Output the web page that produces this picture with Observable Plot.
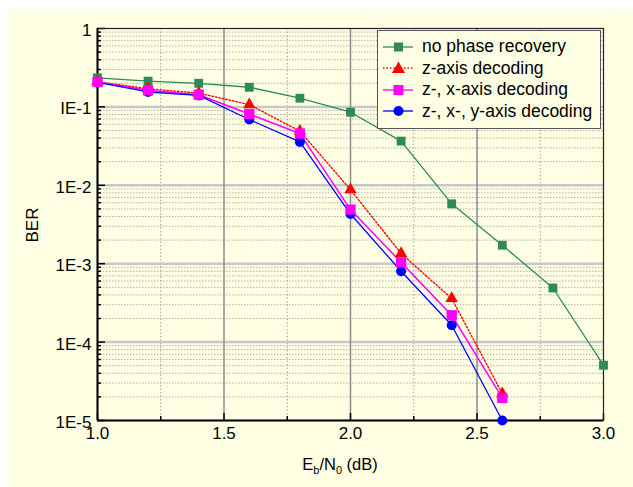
<!DOCTYPE html>
<html><head><meta charset="utf-8">
<script src="https://cdn.jsdelivr.net/npm/d3@7"></script>
<script src="https://cdn.jsdelivr.net/npm/@observablehq/plot@0.6"></script>
<style>
body{margin:0;background:#fff;font-family:"Liberation Sans",Arial,sans-serif;}
#wrap{position:relative;width:633px;height:487px;overflow:hidden;}
#panel{position:absolute;left:7px;top:9px;width:626px;height:478px;background:#ffffe3;}
#chart{position:absolute;left:0;top:0;}
#legend{position:absolute;left:377px;top:30px;width:222px;height:92px;border:1px solid #555;background:#ffffe3;box-sizing:content-box;padding-top:5px;}
.row{height:21.5px;line-height:21.5px;font-size:17.5px;white-space:nowrap;display:flex;align-items:center;}
.row svg{margin-left:5px;margin-right:8px;flex:none;}
#xlabel{position:absolute;left:0;width:680px;top:455px;text-align:center;font-size:16.5px;}
#ylabel{position:absolute;left:33px;top:225px;transform:translate(-50%,-50%) rotate(-90deg);font-size:17px;}
</style></head>
<body>
<div id="wrap"><div id="panel"></div><div id="chart"></div>
<div id="legend"></div>
<div id="xlabel">E<sub style="font-size:11px">b</sub>/N<sub style="font-size:11px">0</sub> (dB)</div>
<div id="ylabel">BER</div>
</div>
<script>
// Data
const ebn0All = [1.0, 1.2, 1.4, 1.6, 1.8, 2.0, 2.2, 2.4, 2.6, 2.8, 3.0];
const ebn0Short = [1.0, 1.2, 1.4, 1.6, 1.8, 2.0, 2.2, 2.4, 2.6];
const berNoRecovery = [0.235, 0.213, 0.20, 0.178, 0.129, 0.0855, 0.0366, 0.0058, 0.00172, 0.00049, 0.0000507];
const berZ = [0.21, 0.17, 0.15, 0.107, 0.049, 0.0088, 0.00135, 0.00036, 0.000022];
const berZX = [0.208, 0.163, 0.143, 0.081, 0.0457, 0.0049, 0.00104, 0.00022, 0.0000194];
const berZXY = [0.205, 0.155, 0.14, 0.069, 0.0358, 0.0043, 0.0008, 0.000164, 0.00001];
const seriesNames = ["no phase recovery", "z-axis decoding", "z-, x-axis decoding", "z-, x-, y-axis decoding"];
const seriesColors = ["#2e8b57", "#ff0000", "#ff00ff", "#0000ff"];

// Ticks
const yTicks = [1, 0.1, 0.01, 0.001, 0.0001, 0.00001];
const yTickLabels = ["1", "IE-1", "1E-2", "1E-3", "1E-4", "1E-5"];
const xTicks = [1.0, 1.5, 2.0, 2.5, 3.0];
const xTickLabels = ["1.0", "1.5", "2.0", "2.5", "3.0"];
const xMinor = [1.25, 1.75, 2.25, 2.75];
const yMinor = yTicks.slice(1).flatMap(d => [2,3,4,5,6,7,8,9].map(m => d * m));

const W = 633, H = 487, mL = 97, mR = 30, mT = 28, mB = 67;
const pw = W - mL - mR, ph = H - mT - mB;

const mk = (xs, ys) => xs.map((x, i) => ({x, y: ys[i]}));
const dNo = mk(ebn0All, berNoRecovery);
const dZ = mk(ebn0Short, berZ);
const dZX = mk(ebn0Short, berZX);
const dZXY = mk(ebn0Short, berZXY);

const chart = Plot.plot({
  width: W, height: H, marginLeft: mL, marginRight: mR, marginTop: mT, marginBottom: mB,
  style: {background: "transparent", fontFamily: "'Liberation Sans', Arial, sans-serif", color: "#000"},
  x: {domain: [1, 3]},
  y: {type: "log", domain: [1e-5, 1]},
  marks: [
    Plot.ruleY(yMinor, {stroke: "#b0b0b0", strokeDasharray: "1.5,1.5", strokeWidth: 1}),
    Plot.ruleX(xMinor, {stroke: "#a0a0a0", strokeDasharray: "1.5,2", strokeWidth: 1}),
    Plot.ruleY(yTicks.slice(1, -1), {stroke: "#c8c8c8", strokeWidth: 2.5}),
    Plot.ruleX(xTicks.slice(1, -1), {stroke: "#8c8c8c", strokeWidth: 1.5}),
    Plot.tickY(yMinor, {y: d => d, insetRight: pw - 4, stroke: "#000", strokeWidth: 1.5}),
    Plot.tickY(yTicks, {y: d => d, insetRight: pw - 8, stroke: "#000", strokeWidth: 1.5}),
    Plot.tickX(xMinor, {x: d => d, insetTop: ph - 4, stroke: "#000", strokeWidth: 1.5}),
    Plot.tickX(xTicks, {x: d => d, insetTop: ph - 7, stroke: "#000", strokeWidth: 1.5}),
    Plot.frame({stroke: "#222", strokeWidth: 1.2}),
    Plot.ruleX([1], {stroke: "#000", strokeWidth: 2}),
    Plot.ruleY([1e-5], {stroke: "#000", strokeWidth: 2}),
    Plot.line(dNo, {x: "x", y: "y", stroke: seriesColors[0], strokeWidth: 1.3}),
    Plot.line(dZ, {x: "x", y: "y", stroke: seriesColors[1], strokeWidth: 1.4, strokeDasharray: "1.5,2"}),
    Plot.line(dZX, {x: "x", y: "y", stroke: seriesColors[2], strokeWidth: 1.5}),
    Plot.line(dZXY, {x: "x", y: "y", stroke: seriesColors[3], strokeWidth: 1.3}),
    Plot.dot(dNo, {x: "x", y: "y", symbol: "square", r: 5, fill: seriesColors[0], stroke: "none"}),
    Plot.dot(dZ, {x: "x", y: "y", symbol: "triangle", r: 4.6, fill: seriesColors[1], stroke: "none"}),
    Plot.dot(dZXY, {x: "x", y: "y", symbol: "circle", r: 5, fill: seriesColors[3], stroke: "none"}),
    Plot.dot(dZX, {x: "x", y: "y", symbol: "square", r: 5.8, fill: seriesColors[2], stroke: "none"}),
    Plot.axisY({ticks: yTicks, tickFormat: d => yTickLabels[yTicks.indexOf(d)], tickSize: 0, tickPadding: 6, dy: 2, fontSize: 17, label: null}),
    Plot.axisX({ticks: xTicks, tickFormat: d => xTickLabels[xTicks.indexOf(d)], tickSize: 0, tickPadding: 6, fontSize: 17, label: null})
  ]
});
document.getElementById("chart").append(chart);

// Legend
const symbolSvg = (i) => {
  const c = seriesColors[i];
  let line = `<line x1="0" y1="7" x2="30" y2="7" stroke="${c}" stroke-width="1.3"${i === 1 ? ' stroke-dasharray="1.5,2"' : ''}/>`;
  let m;
  if (i === 0) m = `<rect x="11" y="2.5" width="9" height="9" fill="${c}"/>`;
  else if (i === 1) m = `<path d="M15.5,0.5 L22,12 L9,12 Z" fill="${c}"/>`;
  else if (i === 2) m = `<rect x="10.5" y="2" width="10" height="10" fill="${c}"/>`;
  else m = `<circle cx="15.5" cy="7" r="5" fill="${c}"/>`;
  return `<svg width="31" height="14">${line}${m}</svg>`;
};
document.getElementById("legend").innerHTML = seriesNames.map((n, i) =>
  `<div class="row">${symbolSvg(i)}<span>${n}</span></div>`).join("");
</script>
</body></html>
